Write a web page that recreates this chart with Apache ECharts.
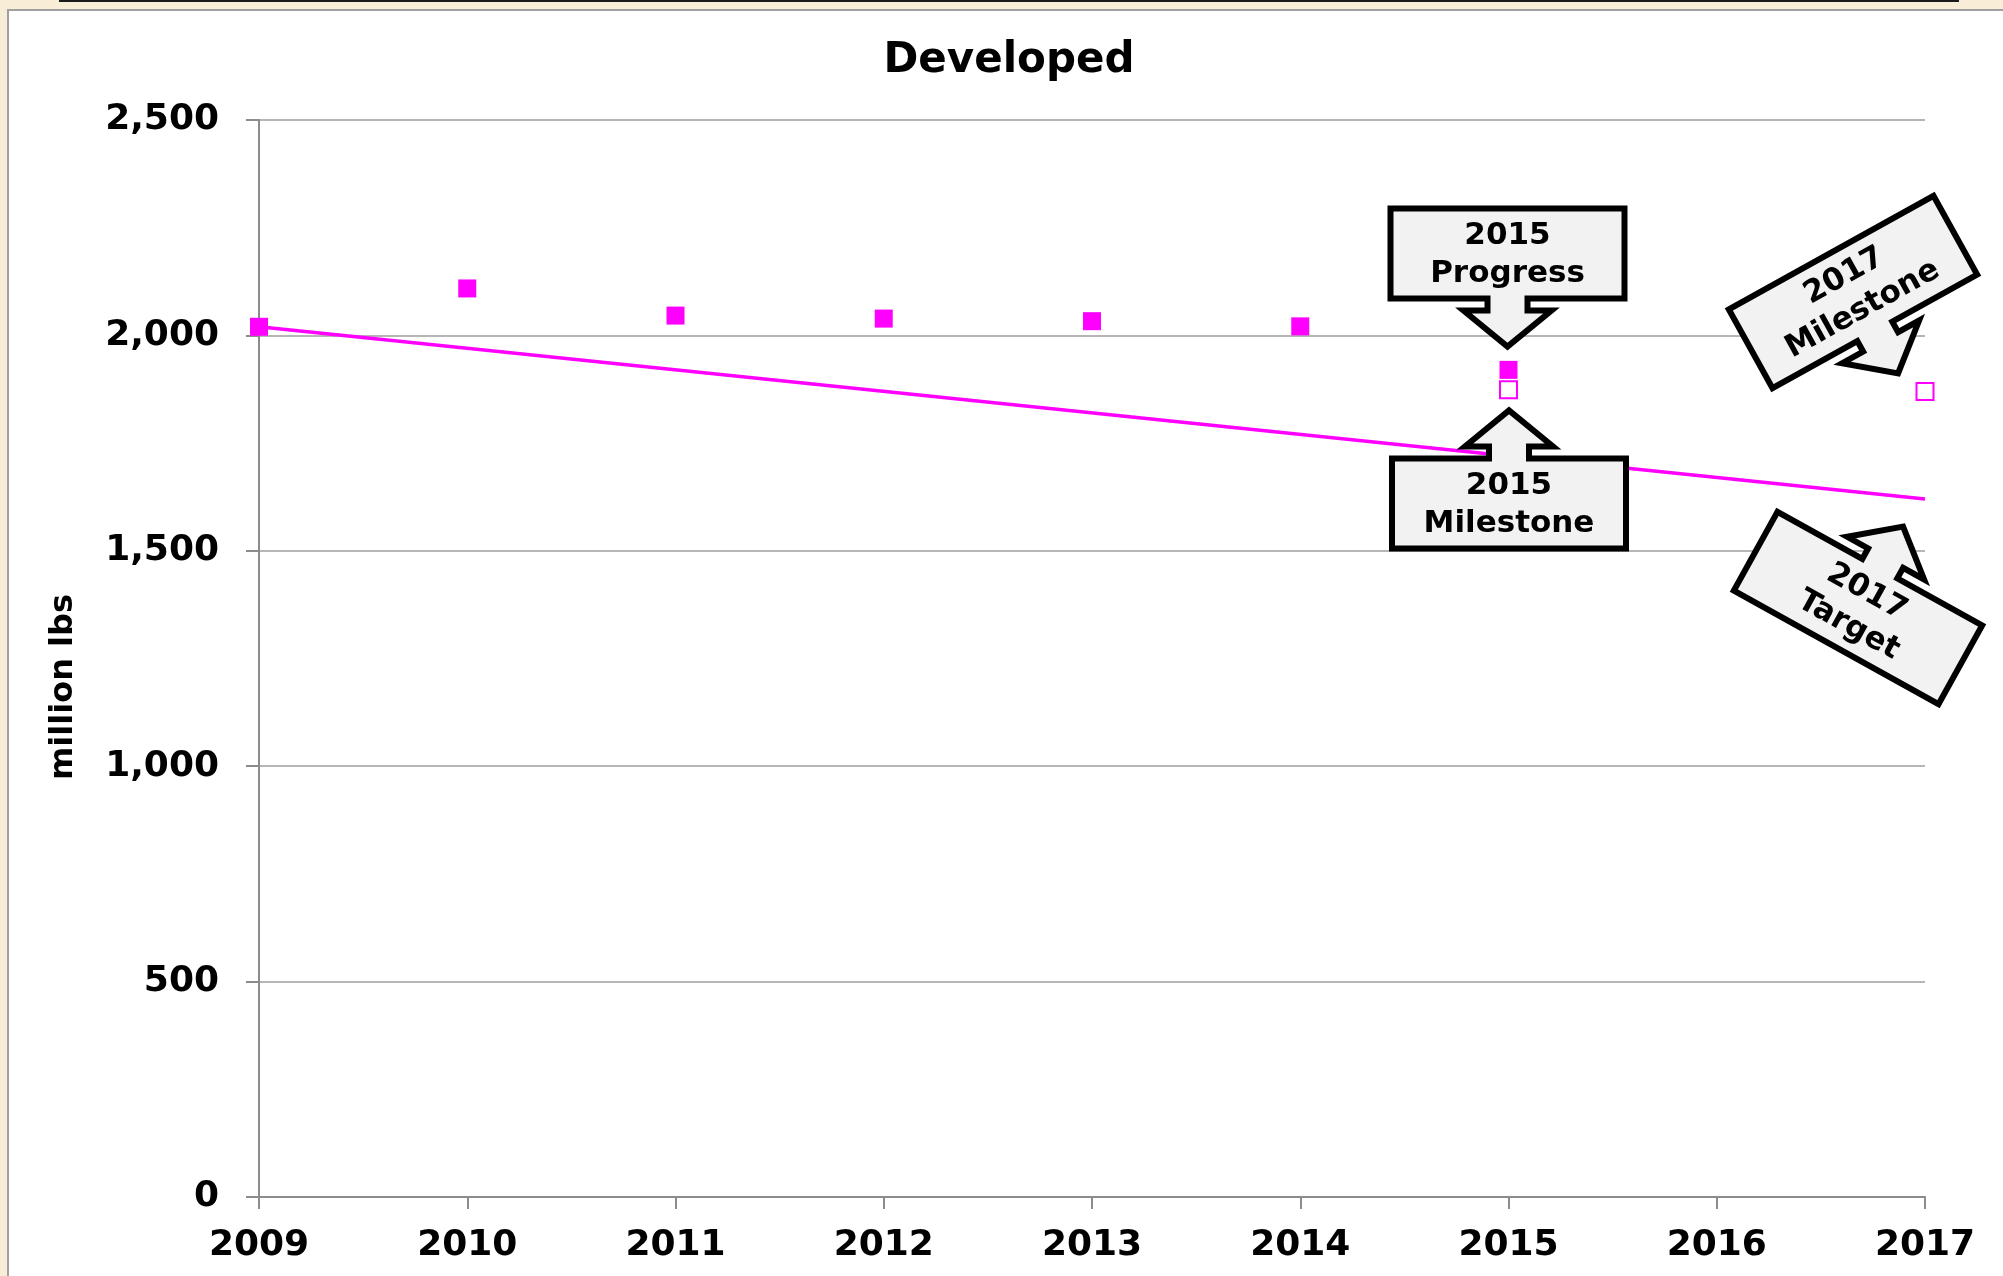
<!DOCTYPE html>
<html>
<head>
<meta charset="utf-8">
<title>Developed</title>
<script src="https://cdn.jsdelivr.net/npm/echarts@6/dist/echarts.min.js"></script>
<style>
  html, body { margin: 0; padding: 0; background: #f8eed8; }
  #chart { width: 2003px; height: 1276px; }
</style>
</head>
<body>
<div id="chart"></div>
<script>
// 年份 (x 轴)
var years = ['2009', '2010', '2011', '2012', '2013', '2014', '2015', '2016', '2017']

// 进度 (实心方块)
var progress = [2020, 2109, 2046, 2039, 2033, 2021, 1920, null, null]

// 里程碑 (空心方块)
var milestone = [null, null, null, null, null, null, 1874, null, 1870]

// 目标线 (2009 到 2017 的直线)
var target = [2020, null, null, null, null, null, null, null, 1620]

// y 轴刻度
var yMin = 0
var yMax = 2500
var yStep = 500

// 标注框
var callouts = [
    { text: '2015\nProgress', x: 1507.5, y: 253.5, dir: 'down', angle: 0 },
    { text: '2015\nMilestone', x: 1509, y: 503.5, dir: 'up', angle: 0 },
    { text: '2017\nMilestone', x: 1853, y: 292, dir: 'down', angle: 29 },
    { text: '2017\nTarget', x: 1858, y: 608, dir: 'up', angle: -29 }
]

var pink = '#ff00ff'
var font = 'DejaVu Sans'

var chart = echarts.init(document.getElementById('chart'))

// 箭头标注的多边形 (局部坐标, 以方框中心为原点)
function calloutPoints(dir) {
    var hw = 117, hh = 45, sh = 20, ah = 44
    var base = hh + 12, tip = hh + 48
    var pts = [[-hw, -hh], [hw, -hh], [hw, hh], [sh, hh], [sh, base], [ah, base],
               [0, tip], [-ah, base], [-sh, base], [-sh, hh], [-hw, hh]]
    if (dir == 'up') {
        pts = pts.map(function (p) { return [p[0], -p[1]] })
    }
    return pts
}

var graphics = [
    // 白色面板
    {
        type: 'rect', z: -10, silent: true,
        shape: { x: 8, y: 10, width: 2010, height: 1280 },
        style: { fill: '#ffffff', stroke: '#a0a0a0', lineWidth: 2 }
    },
    // 顶部黑线
    {
        type: 'rect', z: -10, silent: true,
        shape: { x: 59, y: 0, width: 1900, height: 2 },
        style: { fill: '#1a1a1a' }
    },
    // y 轴名称
    {
        type: 'text', x: 64, y: 687, rotation: Math.PI / 2,
        style: {
            text: 'million lbs', fill: '#000', font: 'bold 32px "' + font + '"',
            align: 'center', verticalAlign: 'middle'
        }
    }
]

callouts.forEach(function (c) {
    graphics.push({
        type: 'group', x: c.x, y: c.y, z: 100,
        rotation: c.angle * Math.PI / 180,
        children: [
            {
                type: 'polygon', z: 100,
                shape: { points: calloutPoints(c.dir) },
                style: { fill: '#f2f2f2', stroke: '#000', lineWidth: 6, lineJoin: 'miter' }
            },
            {
                type: 'text', z: 101, x: 0, y: 1,
                style: {
                    text: c.text, fill: '#000', font: 'bold 31px "' + font + '"',
                    lineHeight: 38, align: 'center', verticalAlign: 'middle'
                }
            }
        ]
    })
})

var option = {
    backgroundColor: '#f8eed8',
    animation: false,
    title: {
        text: 'Developed',
        left: 1009,
        top: 40,
        padding: 0,
        textAlign: 'center',
        textStyle: { fontFamily: font, fontWeight: 'bold', fontSize: 42, color: '#000' }
    },
    grid: { left: 259, right: 78, top: 120, bottom: 79, containLabel: false },
    xAxis: {
        type: 'category',
        data: years,
        boundaryGap: false,
        axisLine: { lineStyle: { color: '#8c8c8c', width: 2 } },
        axisTick: { length: 12, lineStyle: { color: '#8c8c8c', width: 2 } },
        axisLabel: {
            margin: 31, color: '#000', fontFamily: font, fontWeight: 'bold', fontSize: 36
        },
        splitLine: { show: false }
    },
    yAxis: {
        type: 'value',
        min: yMin,
        max: yMax,
        interval: yStep,
        axisLine: { show: true, lineStyle: { color: '#8c8c8c', width: 2 } },
        axisTick: { show: true, length: 13, lineStyle: { color: '#8c8c8c', width: 2 } },
        axisLabel: {
            margin: 40, color: '#000', fontFamily: font, fontWeight: 'bold', fontSize: 36,
            formatter: function (v) { return v.toLocaleString('en-US') }
        },
        splitLine: { lineStyle: { color: '#9e9e9e', width: 1.5 } }
    },
    series: [
        {
            name: 'Target',
            type: 'line',
            data: target,
            connectNulls: true,
            showSymbol: false,
            symbol: 'none',
            lineStyle: { color: pink, width: 3.5 },
            z: 3
        },
        {
            name: 'Progress',
            type: 'scatter',
            data: progress,
            symbol: 'rect',
            symbolSize: 18,
            itemStyle: { color: pink, opacity: 1 },
            z: 4
        },
        {
            name: 'Milestone',
            type: 'scatter',
            data: milestone,
            symbol: 'rect',
            symbolSize: 17,
            itemStyle: { color: '#ffffff', borderColor: pink, borderWidth: 2, opacity: 1 },
            z: 4
        }
    ],
    graphic: graphics
}

chart.setOption(option)
</script>
</body>
</html>
